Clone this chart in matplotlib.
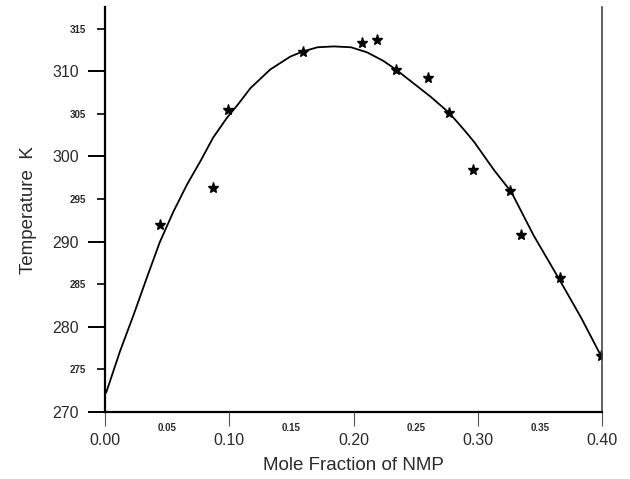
import matplotlib
matplotlib.use('Agg')
import matplotlib.pyplot as plt

# measured points (stars)
x_pts = [0.044, 0.087, 0.099, 0.159, 0.207, 0.219, 0.234, 0.260, 0.277,
         0.296, 0.326, 0.335, 0.366, 0.399]
t_pts = [291.9, 296.3, 305.4, 312.3, 313.3, 313.6, 310.1, 309.2, 305.1,
         298.4, 295.9, 290.8, 285.7, 276.6]

# fitted curve
x_fit = [0.001, 0.012, 0.023, 0.034, 0.044, 0.055, 0.066, 0.077, 0.087,
         0.098, 0.107, 0.117, 0.133, 0.149, 0.159, 0.171, 0.184, 0.198,
         0.211, 0.224, 0.234, 0.248, 0.262, 0.277, 0.289, 0.297, 0.313,
         0.327, 0.345, 0.365, 0.383, 0.398, 0.400]
t_fit = [272.3, 277.1, 281.4, 285.9, 289.9, 293.5, 296.7, 299.5, 302.2,
         304.5, 306.1, 308.0, 310.2, 311.7, 312.3, 312.8, 312.9, 312.8,
         312.2, 311.2, 310.2, 308.6, 307.0, 305.1, 303.1, 301.7, 298.4,
         295.8, 290.7, 285.7, 281.1, 276.9, 276.4]

x_major = [0.00, 0.10, 0.20, 0.30, 0.40]
x_minor = [0.05, 0.15, 0.25, 0.35]
y_major = [270, 280, 290, 300, 310]
y_minor = [275, 285, 295, 305, 315]

plt.rcParams['font.family'] = ['Liberation Sans', 'DejaVu Sans']
txt = '#2a2a2a'

fig = plt.figure(figsize=(6.3, 4.79), dpi=100)
ax = fig.add_axes([0.1667, 0.1399, 0.789, 0.845])

ax.plot(x_fit, t_fit, color='black', lw=1.3)
ax.plot(x_pts, t_pts, linestyle='none', marker='*', color='black', ms=8)

ax.set_xlim(0, 0.40)
ax.set_ylim(270, 317.5)

ax.spines['top'].set_visible(False)
ax.spines['right'].set_linestyle((0, (1, 1)))
ax.spines['right'].set_linewidth(1.2)
ax.spines['right'].set_color('#444444')
ax.spines['left'].set_linewidth(1.6)
ax.spines['bottom'].set_linewidth(1.6)

ax.set_xticks(x_major)
ax.set_xticklabels(['%.2f' % v for v in x_major], fontsize=11.5, color=txt)
ax.set_xticks(x_minor, minor=True)
ax.set_xticklabels(['%.2f' % v for v in x_minor], minor=True,
                   fontsize=7, fontweight='bold', color=txt)
ax.tick_params(axis='x', which='major', direction='out', length=10, width=0.8,
               pad=5, color='#555555')
ax.tick_params(axis='x', which='minor', length=0, pad=8)

ax.set_yticks(y_major)
ax.set_yticklabels([str(v) for v in y_major], fontsize=11.5, color=txt)
ax.set_yticks(y_minor, minor=True)
ax.set_yticklabels([str(v) for v in y_minor], minor=True,
                   fontsize=7, fontweight='bold', color=txt)
ax.tick_params(axis='y', which='major', direction='out', length=12, width=1.4, pad=7)
ax.tick_params(axis='y', which='minor', direction='out', length=6, width=1.2, pad=8)

ax.set_xlabel('Mole Fraction of NMP', fontsize=13.5, color=txt)
ax.set_ylabel('Temperature  K', fontsize=13.5, color=txt)
ax.xaxis.set_label_coords(0.5, -0.111)
ax.yaxis.set_label_coords(-0.137, 0.5)

fig.savefig('out.png', dpi=100, facecolor='white')
